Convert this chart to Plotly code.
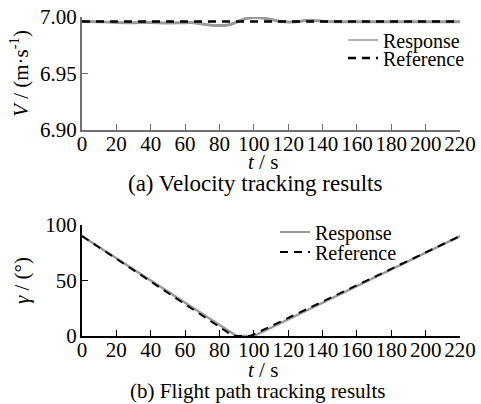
import plotly.graph_objects as go

# Top panel: velocity tracking
t_v = [0, 10, 20, 30, 40, 50, 60, 65, 70, 75, 80, 85, 90, 95, 100, 105, 110, 115, 120, 125, 130, 135, 140, 150, 160, 170, 180, 190, 200, 210, 220]
v_resp = [6.9960, 6.9957, 6.9952, 6.9950, 6.9952, 6.9948, 6.9950, 6.9950, 6.9938, 6.9928, 6.9924, 6.9930, 6.9955, 6.9985, 6.9995, 6.9992, 6.9978, 6.9962, 6.9955, 6.9958, 6.9968, 6.9970, 6.9962, 6.9958, 6.9958, 6.9958, 6.9958, 6.9958, 6.9958, 6.9958, 6.9958]
t_vref = [0, 220]
v_ref = [6.996, 6.996]

# Bottom panel: flight path angle tracking
t_g = [0, 90, 100, 220]
g_resp = [90, 0, 0, 90]
t_gref = [0, 88, 98, 220]
g_ref = [90, 0, 0, 90]

x_ticks = [0, 20, 40, 60, 80, 100, 120, 140, 160, 180, 200, 220]

FONT = "Liberation Serif, Times New Roman, serif"
GRAY = "#9a9a9a"
DASH = "8px,6px"

fig = go.Figure()
fig.add_trace(go.Scatter(x=t_v, y=v_resp, mode="lines", name="Response", showlegend=False,
                         legendgroup="r1", line=dict(color=GRAY, width=3, shape="spline"),
                         xaxis="x", yaxis="y"))
fig.add_trace(go.Scatter(x=[None], y=[None], mode="lines", name="Response", legendgroup="r1",
                         line=dict(color=GRAY, width=1.5), xaxis="x", yaxis="y", legend="legend"))
fig.add_trace(go.Scatter(x=t_vref, y=v_ref, mode="lines", name="Reference",
                         line=dict(color="black", width=2.5, dash=DASH),
                         xaxis="x", yaxis="y", legend="legend2"))
fig.add_trace(go.Scatter(x=t_g, y=g_resp, mode="lines", name="Response", showlegend=False,
                         legendgroup="r2", line=dict(color=GRAY, width=2.5),
                         xaxis="x2", yaxis="y2"))
fig.add_trace(go.Scatter(x=[None], y=[None], mode="lines", name="Response", legendgroup="r2",
                         line=dict(color=GRAY, width=2), xaxis="x2", yaxis="y2", legend="legend3"))
fig.add_trace(go.Scatter(x=t_gref, y=g_ref, mode="lines", name="Reference",
                         line=dict(color="black", width=2, dash=DASH),
                         xaxis="x2", yaxis="y2", legend="legend4"))

W, H = 481, 404
xl, xr = 82 / W, 460 / W

def py(p):
    return 1 - p / H

def px(p):
    return p / W

TICK = dict(family=FONT, size=21, color="black")
TITLE = dict(family=FONT, size=21, color="black")

common_x = dict(range=[0, 220], tickvals=x_ticks, ticks="inside", ticklen=6,
                showgrid=False, zeroline=False, showline=True, linewidth=2,
                automargin=False, tickfont=TICK, ticklabelstandoff=-6)
common_y = dict(ticks="inside", ticklen=6, showgrid=False, zeroline=False,
                showline=True, linewidth=2, automargin=False, tickfont=TICK,
                ticklabelstandoff=-1)

def leg(x, y):
    return dict(x=x / W, y=py(y), xanchor="left", yanchor="middle",
                bgcolor="rgba(0,0,0,0)", borderwidth=0, tracegroupgap=0,
                font=dict(family=FONT, size=20, color="black"))

def label(text, x, y, size):
    return dict(text=text, x=px(x), y=py(y), xref="paper", yref="paper", showarrow=False,
                font=dict(family=FONT, size=size, color="black"),
                xanchor="center", yanchor="middle")

fig.update_layout(
    width=W, height=H, margin=dict(l=0, r=0, t=0, b=0),
    paper_bgcolor="white", plot_bgcolor="white",
    font=dict(family=FONT, size=21, color="black"),
    xaxis=dict(domain=[xl, xr], anchor="y", linecolor="#707070", tickcolor="#707070", **common_x),
    yaxis=dict(domain=[py(130), py(17)], anchor="x", range=[6.90, 7.00],
               tickvals=[6.90, 6.95, 7.00], tickformat=".2f",
               linecolor="#707070", tickcolor="#707070",
               title=dict(text="<i>V</i> / (m·s<sup>-1</sup>)", standoff=6, font=TITLE), **common_y),
    xaxis2=dict(domain=[xl, xr], anchor="y2", linecolor="black", tickcolor="black", **common_x),
    yaxis2=dict(domain=[py(336), py(225)], anchor="x2", range=[0, 100],
                tickvals=[0, 50, 100], linecolor="black", tickcolor="black",
                title=dict(text="<i>γ</i> / (°)", standoff=10, font=TITLE), **common_y),
    legend=leg(343, 40),
    legend2=leg(343, 58),
    legend3=leg(275, 232),
    legend4=leg(275, 252),
    annotations=[
        label("<i>t</i> / s", 263, 162, 21),
        label("(a) Velocity tracking results", 255, 184, 23),
        label("<i>t</i> / s", 263, 370, 21),
        label("(b) Flight path tracking results", 257, 391, 21),
    ],
    showlegend=True,
)

fig.write_html("out.html", config={"displayModeBar": False},
               post_script="document.body.style.margin='0';document.body.style.overflow='hidden';")
